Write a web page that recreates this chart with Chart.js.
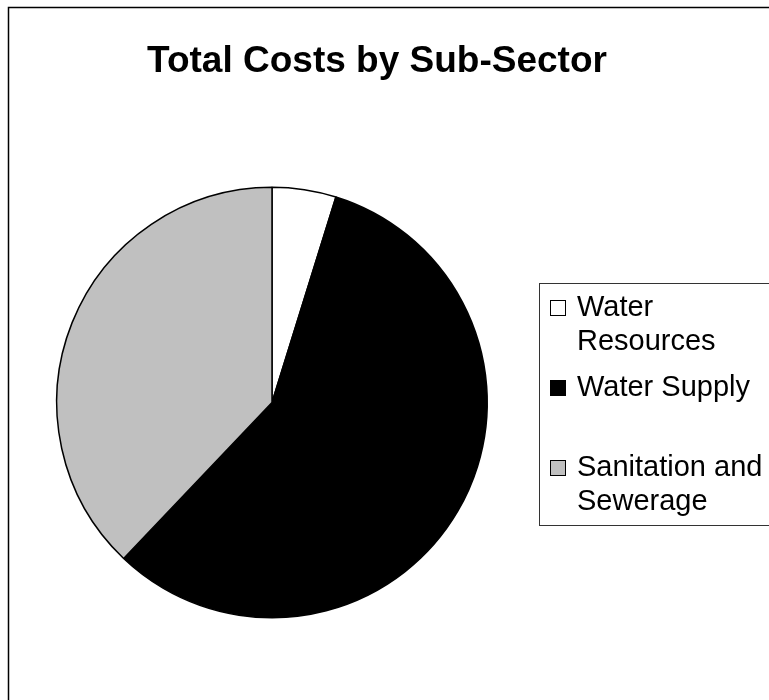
<!DOCTYPE html>
<html>
<head>
<meta charset="utf-8">
<script src="https://cdn.jsdelivr.net/npm/chart.js@4"></script>
<style>
  body { margin: 0; background: #fff; overflow: hidden; }
  #wrap { position: absolute; left: 0; top: 0; width: 769px; height: 700px; }
</style>
</head>
<body>
<div id="wrap"><canvas id="costChart"></canvas></div>
<script>
const chartTitle = "Total Costs by Sub-Sector";
const subSectors = [["Water", "Resources"], ["Water Supply"], ["Sanitation and", "Sewerage"]];
const costShares = [4.8, 57.3, 37.9];
const sliceColors = ["#FFFFFF", "#000000", "#C0C0C0"];

const ctx = document.getElementById("costChart");

// frame, title and boxed legend drawn on top of the pie
const framePlugin = {
  id: "frame",
  afterDraw(chart) {
    let c = chart.ctx;
    c.save();
    c.strokeStyle = "#000";
    c.lineWidth = 1.5;
    c.strokeRect(8.5, 7.5, 800, 800);

    c.fillStyle = "#000";
    c.font = "bold 37px 'Liberation Sans', Arial, sans-serif";
    c.textAlign = "center";
    c.textBaseline = "alphabetic";
    c.fillText(chartTitle, 377, 72);

    // legend box
    c.strokeStyle = "#333";
    c.lineWidth = 1;
    c.strokeRect(539.5, 283.5, 300, 242);

    c.font = "29px 'Liberation Sans', Arial, sans-serif";
    c.textAlign = "left";
    let labels = chart.data.labels;
    let colors = chart.data.datasets[0].backgroundColor;
    labels.forEach((lines, i) => {
      let base = 316 + i * 80;
      c.fillStyle = colors[i];
      c.fillRect(550.5, base - 15.5, 15, 15);
      c.strokeStyle = "#000";
      c.strokeRect(550.5, base - 15.5, 15, 15);
      c.fillStyle = "#000";
      lines.forEach((t, j) => c.fillText(t, 577, base + j * 34));
    });
    c.restore();
  }
};

new Chart(ctx, {
  type: "pie",
  data: {
    labels: subSectors,
    datasets: [{
      data: costShares,
      backgroundColor: sliceColors,
      borderColor: "#000",
      borderWidth: 1.5
    }]
  },
  options: {
    responsive: true,
    maintainAspectRatio: false,
    animation: false,
    layout: { padding: { left: 56, right: 281, top: 186.5, bottom: 81.5 } },
    plugins: {
      legend: { display: false },
      title: { display: false },
      tooltip: { enabled: false }
    }
  },
  plugins: [framePlugin]
});
</script>
</body>
</html>
